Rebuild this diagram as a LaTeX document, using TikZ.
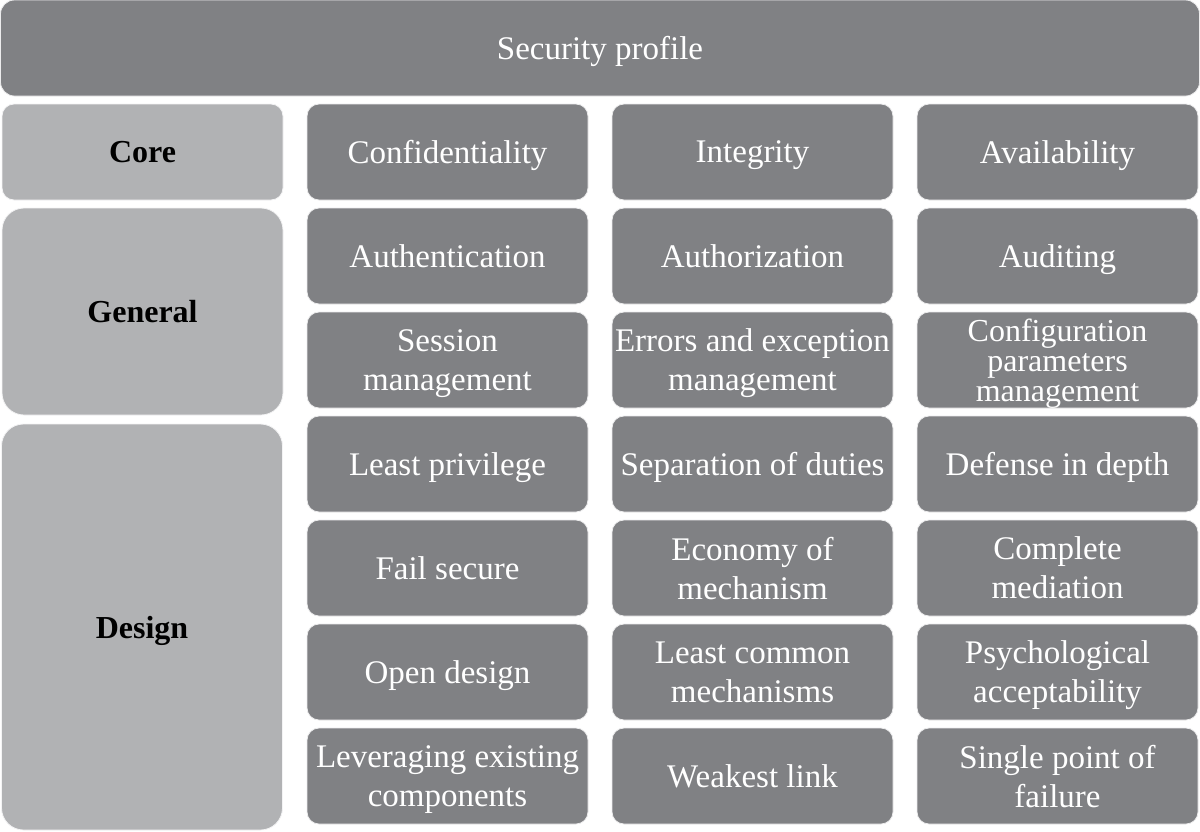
\documentclass[tikz,border=0pt]{standalone}
\usepackage{fontspec}
\setmainfont{Liberation Serif}
\usepackage{xcolor}
\definecolor{boxdark}{HTML}{808184}
\definecolor{boxlight}{HTML}{B1B2B4}

\begin{document}
\begin{tikzpicture}[x=0.5pt, y=-0.5pt,
  cell/.style={fill=boxdark, draw=white!85!boxdark, line width=0.4pt, rounded corners=6pt,
    text=white, align=center, inner sep=0pt, text depth=0pt,
    minimum width=140.5pt, minimum height=48pt,
    font=\fontsize{16.5}{19.5}\selectfont},
  side/.style={fill=boxlight, draw=white!85!boxlight, line width=0.4pt, rounded corners=11pt,
    text=black, align=center, inner sep=0pt, text depth=0pt,
    minimum width=140.5pt, font=\fontsize{16}{19.5}\selectfont\bfseries}]

  \useasboundingbox (0,0) rectangle (1200,831);

  % Header
  \node[cell, minimum width=599.5pt, rounded corners=7pt] (profile) at (600,48) {Security profile};

  % Levels
  \node[side, minimum height=48pt, rounded corners=6pt] (core) at (142.5,152) {Core};
  \node[side, minimum height=103.5pt] (general) at (142.5,311.5) {General};
  \node[side, minimum height=203pt] (design) at (142,627) {Design};

  % Core principles
  \node[cell] (conf) at (447.5,152) {Confidentiality};
  \node[cell] (integ) at (752.5,152) {Integrity};
  \node[cell] (avail) at (1057.5,152) {Availability};

  % General principles
  \node[cell] (authn) at (447.5,256) {Authentication};
  \node[cell] (authz) at (752.5,256) {Authorization};
  \node[cell] (audit) at (1057.5,256) {Auditing};
  \node[cell] (session) at (447.5,360) {Session\\management};
  \node[cell] (errors) at (752.5,360) {Errors and exception\\management};
  \node[cell, font=\fontsize{16}{15}\selectfont] (config) at (1057.5,360) {Configuration\\parameters\\management};

  % Design principles
  \node[cell] (leastpriv) at (447.5,464) {Least privilege};
  \node[cell] (sepduty) at (752.5,464) {Separation of duties};
  \node[cell] (depth) at (1057.5,464) {Defense in depth};
  \node[cell] (failsec) at (447.5,568) {Fail secure};
  \node[cell] (economy) at (752.5,568) {Economy of\\mechanism};
  \node[cell] (mediation) at (1057.5,568) {Complete\\mediation};
  \node[cell] (opendes) at (447.5,672) {Open design};
  \node[cell] (leastcom) at (752.5,672) {Least common\\mechanisms};
  \node[cell] (psych) at (1057.5,672) {Psychological\\acceptability};
  \node[cell] (leverage) at (447.5,776) {Leveraging existing\\components};
  \node[cell] (weakest) at (752.5,776) {Weakest link};
  \node[cell] (spof) at (1057.5,776) {Single point of\\failure};

\end{tikzpicture}
\end{document}
